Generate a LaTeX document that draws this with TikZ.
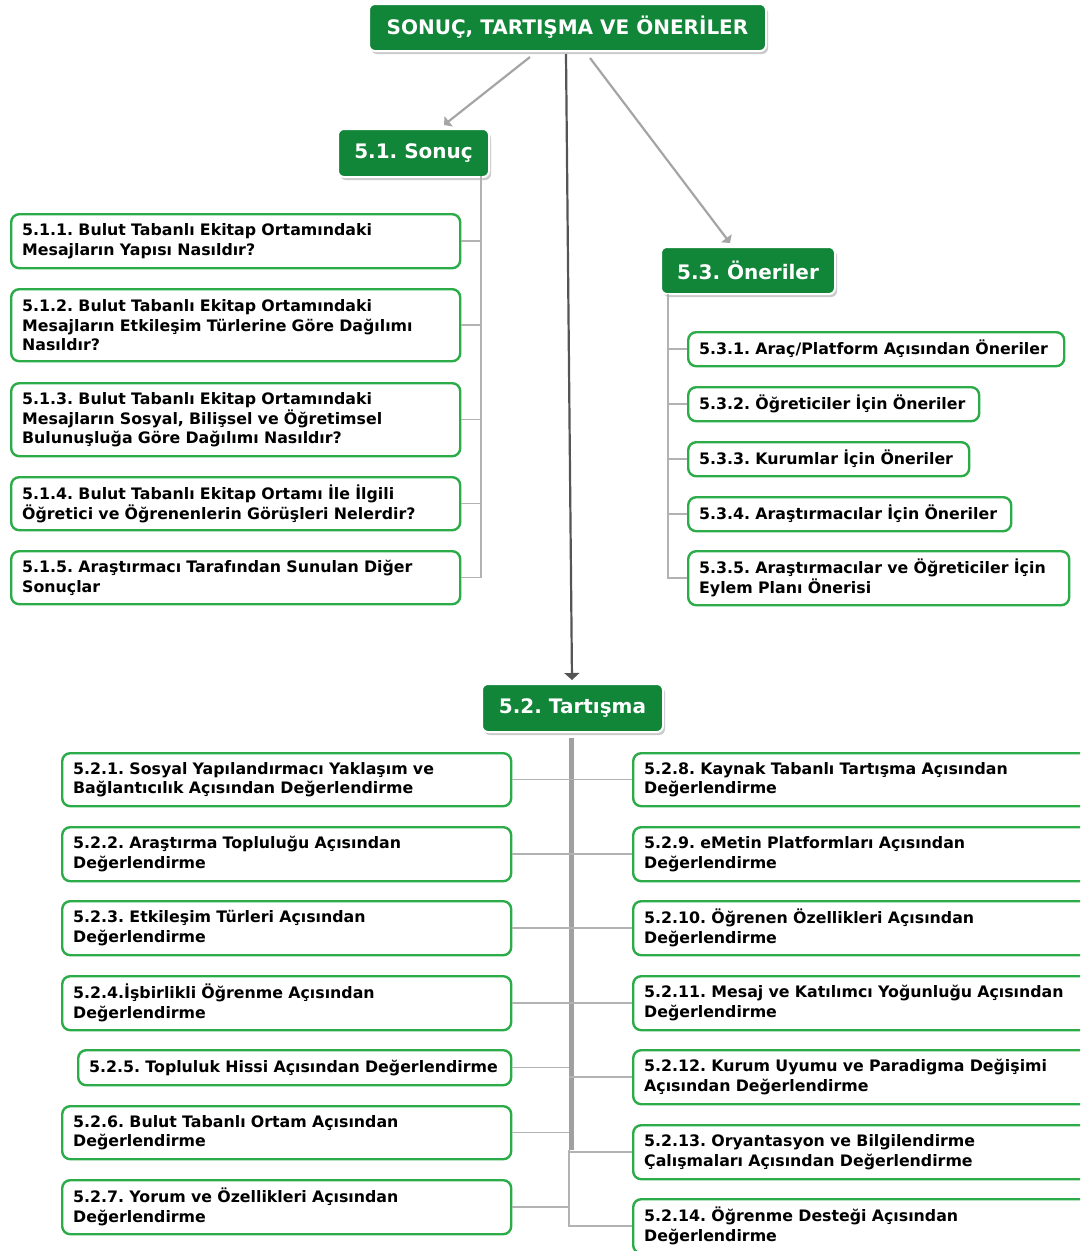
\documentclass[tikz,border=0pt]{standalone}
\usepackage{fontspec}
\setmainfont{DejaVu Sans}
\usetikzlibrary{arrows.meta,shadows}
\definecolor{topgreen}{RGB}{17,133,56}
\definecolor{leafgreen}{RGB}{44,172,72}
\definecolor{linkgray}{RGB}{178,178,178}
\definecolor{arrowgray}{RGB}{165,165,165}
\definecolor{darkarrow}{RGB}{85,85,85}
\frenchspacing
\tikzset{
  headbox/.style={draw=white, line width=2pt, fill=topgreen, rounded corners=6pt,
    text=white, font=\bfseries\fontsize{20}{24}\selectfont, inner sep=0pt,
    drop shadow={shadow xshift=2pt, shadow yshift=-3pt, fill=black!35, opacity=0.6},
    anchor=north west},
  leafbox/.style={draw=leafgreen, line width=2.4pt, fill=white, rounded corners=8pt,
    text=black, font=\bfseries\fontsize{15.8}{19.8}\selectfont, align=left,
    inner xsep=11pt, inner ysep=0pt, anchor=north west},
  link/.style={draw=linkgray, line width=1.5pt},
  trunk/.style={draw=linkgray!90!black, line width=5pt},
  branch/.style={draw=arrowgray, line width=2.2pt, -{Triangle[width=13pt,length=6pt]}},
  mainarrow/.style={draw=darkarrow, line width=2.2pt, -{Triangle[width=15pt,length=7pt]}}
}
% leaf box: name, corner x, corner y, width, height, text
% lines break only where \\ is written
\newcommand\leaf[6]{%
  \node[leafbox, minimum width=#4pt, minimum height=#5pt, text width=#4pt-22pt] (#1) at (#2,#3)
    {\hyphenpenalty=10000 \rightskip=0pt plus 1fil minus 60pt\relax #6};}
\begin{document}
\begin{tikzpicture}[x=1pt,y=-1pt]
\useasboundingbox (0,0) rectangle (1080,1251);
\clip (0,0) rectangle (1080,1251);

% headings
\node[headbox, minimum width=397pt, minimum height=47pt] (root) at (368,3) {SONUÇ, TARTIŞMA VE ÖNERİLER};
\node[headbox, minimum width=151pt, minimum height=48pt] (sonuc) at (337,128) {5.1. Sonuç};
\node[headbox, minimum width=174pt, minimum height=47pt] (oneri) at (660,246) {5.3. Öneriler};
\node[headbox, minimum width=181pt, minimum height=48pt] (tart) at (481,683) {5.2. Tartışma};

% arrows from the root
\coordinate (r1) at (530,57);
\coordinate (r2) at (566,54);
\coordinate (r3) at (590,58);
\coordinate (e1) at (444,125);
\coordinate (e3) at (730,243);
\coordinate (e2) at (572,680);
\draw[branch] (r1) -- (e1);
\draw[branch] (r3) -- (e3);
\draw[mainarrow] (r2) -- (e2);

% 5.1 children
\leaf{a1}{10}{213}{449}{54}{5.1.1. Bulut Tabanlı Ekitap Ortamındaki\\Mesajların Yapısı Nasıldır?}
\leaf{a2}{10}{288}{449}{72}{5.1.2. Bulut Tabanlı Ekitap Ortamındaki\\Mesajların Etkileşim Türlerine Göre Dağılımı\\Nasıldır?}
\leaf{a3}{10}{382}{449}{73}{5.1.3. Bulut Tabanlı Ekitap Ortamındaki\\Mesajların Sosyal, Bilişsel ve Öğretimsel\\Bulunuşluğa Göre Dağılımı Nasıldır?}
\leaf{a4}{10}{476}{449}{53}{5.1.4. Bulut Tabanlı Ekitap Ortamı İle İlgili\\Öğretici ve Öğrenenlerin Görüşleri Nelerdir?}
\leaf{a5}{10}{550}{449}{53}{5.1.5. Araştırmacı Tarafından Sunulan Diğer\\Sonuçlar}
\coordinate (ta) at (481,176);
\draw[link] (ta) |- (a5.east);
\foreach \n in {a1,a2,a3,a4} \draw[link] (\n.east) -- (\n.east -| ta);

% 5.3 children
\leaf{c1}{687}{331}{376}{34}{5.3.1. Araç/Platform Açısından Öneriler}
\leaf{c2}{687}{386}{291}{34}{5.3.2. Öğreticiler İçin Öneriler}
\leaf{c3}{687}{441}{281}{34}{5.3.3. Kurumlar İçin Öneriler}
\leaf{c4}{687}{496}{323}{34}{5.3.4. Araştırmacılar İçin Öneriler}
\leaf{c5}{687}{550}{381}{54}{5.3.5. Araştırmacılar ve Öğreticiler İçin\\Eylem Planı Önerisi}
\coordinate (tc) at (668,294);
\draw[link] (tc) |- (c5.west);
\foreach \n in {c1,c2,c3,c4} \draw[link] (\n.west) -- (\n.west -| tc);

% 5.2 children, left column
\leaf{b1}{61}{752}{449}{53}{5.2.1. Sosyal Yapılandırmacı Yaklaşım ve\\Bağlantıcılık Açısından Değerlendirme}
\leaf{b2}{61}{826}{449}{54}{5.2.2. Araştırma Topluluğu Açısından\\Değerlendirme}
\leaf{b3}{61}{900}{449}{54}{5.2.3. Etkileşim Türleri Açısından\\Değerlendirme}
\leaf{b4}{61}{975}{449}{54}{5.2.4.İşbirlikli Öğrenme Açısından\\Değerlendirme}
\leaf{b5}{77}{1049}{433}{35}{5.2.5. Topluluk Hissi Açısından Değerlendirme}
\leaf{b6}{61}{1105}{449}{53}{5.2.6. Bulut Tabanlı Ortam Açısından\\Değerlendirme}
\leaf{b7}{61}{1179}{449}{54}{5.2.7. Yorum ve Özellikleri Açısından\\Değerlendirme}

% 5.2 children, right column
\leaf{d1}{632}{752}{455}{53}{5.2.8. Kaynak Tabanlı Tartışma Açısından\\Değerlendirme}
\leaf{d2}{632}{826}{455}{54}{5.2.9. eMetin Platformları Açısından\\Değerlendirme}
\leaf{d3}{632}{900}{455}{54}{5.2.10. Öğrenen Özellikleri Açısından\\Değerlendirme}
\leaf{d4}{632}{975}{455}{54}{5.2.11. Mesaj ve Katılımcı Yoğunluğu Açısından\\Değerlendirme}
\leaf{d5}{632}{1049}{455}{54}{5.2.12. Kurum Uyumu ve Paradigma Değişimi\\Açısından Değerlendirme}
\leaf{d6}{632}{1124}{455}{54}{5.2.13. Oryantasyon ve Bilgilendirme\\Çalışmaları Açısından Değerlendirme}
\leaf{d7}{632}{1198}{455}{54}{5.2.14. Öğrenme Desteği Açısından\\Değerlendirme}

\coordinate (tb) at (571,738);
\coordinate (tbend) at (571,1150);
\coordinate (tbthin) at (569,1150);
\draw[trunk] (tb) -- (tbend);
\draw[link] (tbthin) |- (d7.west);
\foreach \n in {b1,b2,b3,b4,b5,b6,b7} \draw[link] (\n.east) -- (\n.east -| tbthin);
\foreach \n in {d1,d2,d3,d4,d5,d6} \draw[link] (\n.west) -- (\n.west -| tbthin);
\end{tikzpicture}
\end{document}
